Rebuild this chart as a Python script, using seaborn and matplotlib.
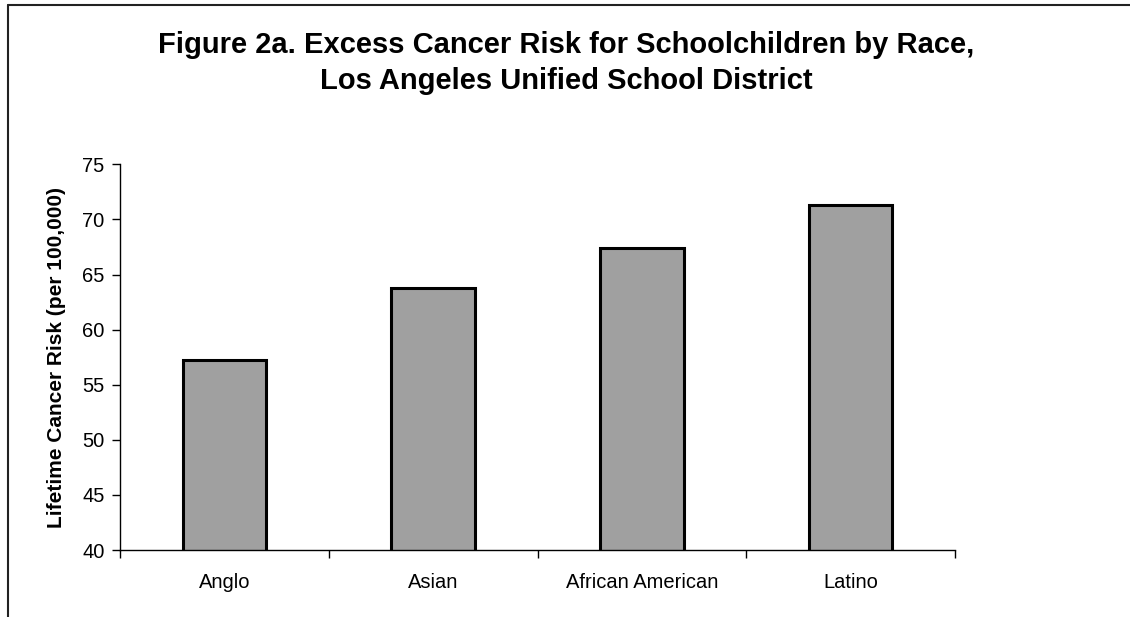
import matplotlib
matplotlib.use("Agg")
import matplotlib.pyplot as plt
from matplotlib.lines import Line2D
import seaborn as sns
import pandas as pd

categories = ["Anglo", "Asian", "African American", "Latino"]
values = [57.2, 63.8, 67.4, 71.3]
y_ticks = [40, 45, 50, 55, 60, 65, 70, 75]
title_line1 = "Figure 2a. Excess Cancer Risk for Schoolchildren by Race,"
title_line2 = "Los Angeles Unified School District"
y_label = "Lifetime Cancer Risk (per 100,000)"

sns.set_style("white")
plt.rcParams["font.family"] = ["Liberation Sans", "DejaVu Sans"]
plt.rcParams["text.color"] = "black"
plt.rcParams["axes.labelcolor"] = "black"
plt.rcParams["xtick.color"] = "black"
plt.rcParams["ytick.color"] = "black"

W, H = 1130, 617
fig = plt.figure(figsize=(W / 100, H / 100), dpi=100)
ax = fig.add_axes([120 / W, 67 / H, 835 / W, (550 - 164.3) / H])

df = pd.DataFrame({"race": categories, "risk": values})
sns.barplot(data=df, x="race", y="risk", color="#A0A0A0", saturation=1,
            edgecolor="black", linewidth=2.2, width=0.40, ax=ax)

tick_fs = 14.5
ax.set_ylim(40, 75)
ax.set_xlim(-0.5, len(categories) - 0.5)
ax.set_yticks(y_ticks)
ax.set_yticklabels([str(t) for t in y_ticks], fontsize=tick_fs)
ax.set_xticks([i - 0.5 for i in range(len(categories) + 1)])
ax.set_xticklabels([""] * (len(categories) + 1))
ax.set_xticks(range(len(categories)), minor=True)
ax.set_xticklabels(categories, minor=True, fontsize=tick_fs)
ax.tick_params(axis="x", which="major", direction="out", length=6, width=1, color="black")
ax.tick_params(axis="x", which="minor", length=0, pad=16.5)
ax.tick_params(axis="y", direction="out", length=6, width=1, color="black", pad=5)
ax.tick_params(left=True, bottom=True)

for s in ["top", "right"]:
    ax.spines[s].set_visible(False)
for s in ["left", "bottom"]:
    ax.spines[s].set_color("black")
    ax.spines[s].set_linewidth(1)

ax.set_xlabel("")
ax.set_ylabel(y_label, fontsize=15, fontweight="bold")
ax.yaxis.set_label_coords((66 - 120) / 835, 0.5)

fig.text(566 / W, 1 - 53 / H, title_line1, ha="center", va="baseline",
         fontsize=21, fontweight="bold")
fig.text(566 / W, 1 - 89 / H, title_line2, ha="center", va="baseline",
         fontsize=21, fontweight="bold")

# chart-area border (top and left edges visible in the crop)
fig.add_artist(Line2D([7.5 / W, 7.5 / W], [0, 1 - 5 / H], transform=fig.transFigure,
                      color="#222222", linewidth=1.5))
fig.add_artist(Line2D([7.5 / W, 1], [1 - 5 / H, 1 - 5 / H], transform=fig.transFigure,
                      color="#222222", linewidth=1.5))

fig.savefig("out.png", dpi=100)
